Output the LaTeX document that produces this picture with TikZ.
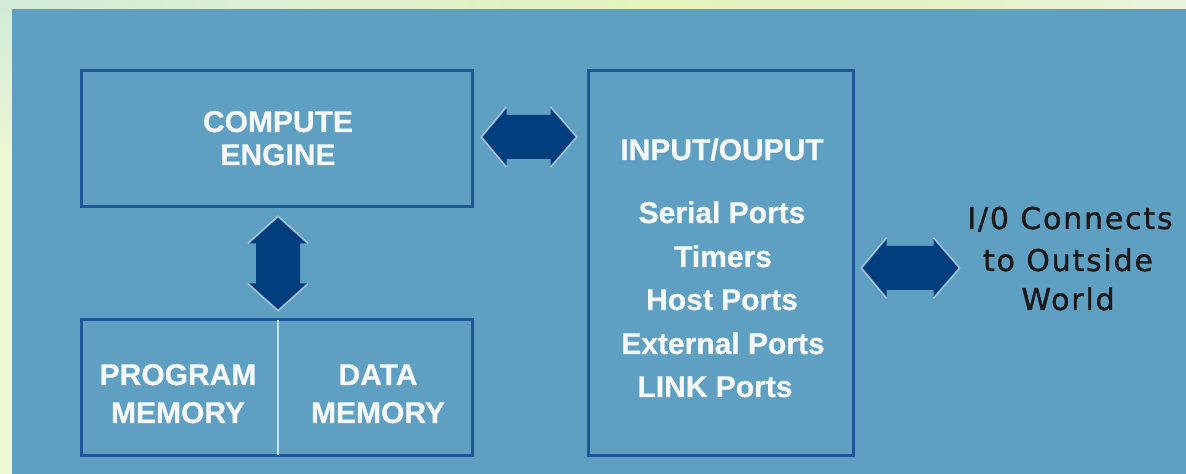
\documentclass[tikz,border=0pt]{standalone}
\usepackage{fontspec}
\setmainfont{Liberation Sans}
\newfontfamily\lblfont{DejaVu Sans}[LetterSpace=6,FakeBold=1.2]
\newfontfamily\wfont{Liberation Sans Bold}[FakeBold=0.6]
\usetikzlibrary{calc}
\definecolor{panelblue}{HTML}{5FA0C2}
\definecolor{boxline}{HTML}{1E5797}
\definecolor{arrowblue}{HTML}{003E7E}
\definecolor{divcol}{HTML}{C8E2EF}
\definecolor{txtwhite}{HTML}{F6F9FB}
\definecolor{bgMint}{HTML}{D2EBD8}
\definecolor{bgMintB}{HTML}{DCF0D2}
\definecolor{bgYel}{HTML}{E3F4BC}
\definecolor{bgYelB}{HTML}{E2F2C4}
\definecolor{bgPale}{HTML}{EAF4DE}
\definecolor{bgLow}{HTML}{EDF7D2}
\tikzset{
  blockbox/.style={draw=boxline, line width=1.5pt, fill=none, inner sep=0pt},
  wtext/.style={text=txtwhite, font=\wfont\fontsize{15}{18}\selectfont, anchor=base, inner sep=0pt},
  btext/.style={text=black!90, font=\lblfont\fontsize{15}{18}\selectfont, anchor=base, inner sep=0pt},
  arrowfill/.style={fill=arrowblue},
  arrowedge/.style={draw=white, opacity=0.55, line width=0.8pt},
  divider/.style={draw=divcol, line width=1.1pt}
}
\newcommand\dhArrow[2]{%
  \fill[arrowfill] (#1) -- ($(#1)+(25,-30)$) -- ($(#1)+(25,-22)$) -- ($(#2)+(-26,-22)$) -- ($(#2)+(-26,-30)$) -- (#2)
     -- ($(#2)+(-26,30)$) -- ($(#2)+(-26,22)$) -- ($(#1)+(25,22)$) -- ($(#1)+(25,30)$) -- cycle;
  \draw[arrowedge] ($(#1)+(25,-30)$) -- (#1) -- ($(#1)+(25,30)$);
  \draw[arrowedge] ($(#2)+(-26,-30)$) -- (#2) -- ($(#2)+(-26,30)$);
}
\newcommand\dvArrow[2]{%
  \fill[arrowfill] (#1) -- ($(#1)+(30,27)$) -- ($(#1)+(22,27)$) -- ($(#2)+(22,-27)$) -- ($(#2)+(30,-27)$) -- (#2)
     -- ($(#2)+(-30,-27)$) -- ($(#2)+(-22,-27)$) -- ($(#1)+(-22,27)$) -- ($(#1)+(-30,27)$) -- cycle;
  \draw[arrowedge] ($(#1)+(30,27)$) -- (#1) -- ($(#1)+(-30,27)$);
  \draw[arrowedge] ($(#2)+(30,-27)$) -- (#2) -- ($(#2)+(-30,-27)$);
}
\begin{document}
\begin{tikzpicture}[x=0.5pt, y=-0.5pt]
\useasboundingbox (0,0) rectangle (1186,474);
% background
\fill[bgLow] (0,0) rectangle (1186,474);
\shade[left color=bgMint, right color=bgMintB] (0,0) rectangle (300,9);
\shade[left color=bgMintB, right color=bgYel] (300,0) rectangle (650,9);
\shade[left color=bgYel, right color=bgYelB] (650,0) rectangle (900,9);
\shade[left color=bgYelB, right color=bgPale] (900,0) rectangle (1186,9);
\shade[top color=bgMint, bottom color=bgLow] (0,9) rectangle (12,160);
\fill[panelblue] (12,9) rectangle (1186,474);
% boxes
\node[blockbox, minimum width=195.5pt, minimum height=68pt] (ce) at (276.5,139) {};
\node[blockbox, minimum width=132.5pt, minimum height=192.5pt] (io) at (720.5,263.5) {};
\node[blockbox, minimum width=195.5pt, minimum height=68pt] (mem) at (276.5,388) {};
\draw[divider] ($(mem.north)+(1.5,2)$) -- ($(mem.south)+(1.5,-2)$);
% texts
\node[wtext] (t1) at (278,132) {COMPUTE};
\node[wtext] (t2) at (278,165) {ENGINE};
\node[wtext] (t3) at (722,160) {INPUT/OUPUT};
\node[wtext] (t4) at (722,223) {Serial Ports};
\node[wtext] (t5) at (723,267) {Timers};
\node[wtext] (t6) at (722,310) {Host Ports};
\node[wtext] (t7) at (723,354) {External Ports};
\node[wtext] (t8) at (715,397) {LINK Ports};
\node[wtext] (t9) at (178,385) {PROGRAM};
\node[wtext] (t10) at (178,423) {MEMORY};
\node[wtext] (t11) at (378,385) {DATA};
\node[wtext] (t12) at (378,423) {MEMORY};
\node[btext] (o1) at (1070,229) {I/0 Connects};
\node[btext] (o2) at (1068,271) {to Outside};
\node[btext] (o3) at (1068,310) {World};
% arrows
\coordinate (a1l) at ($(ce.east)+(8,-2)$);
\coordinate (a1r) at ($(io.west |- a1l)+(-10,0)$);
\coordinate (a2t) at ($(ce.south)+(1.5,8)$);
\coordinate (a2b) at ($(mem.north)+(1.5,-8)$);
\coordinate (a3l) at ($(io.east)+(7,4.5)$);
\coordinate (a3r) at ($(a3l)+(98,0)$);
\dhArrow{a1l}{a1r}
\dvArrow{a2t}{a2b}
\dhArrow{a3l}{a3r}
\end{tikzpicture}
\end{document}
